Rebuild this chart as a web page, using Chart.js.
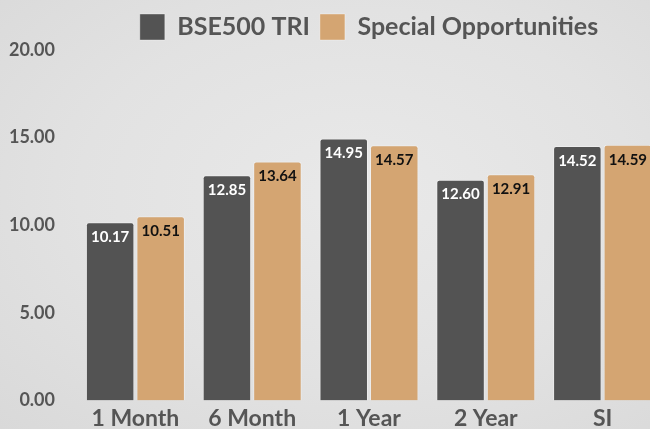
<!DOCTYPE html>
<html>
<head>
<meta charset="utf-8">
<script src="https://cdn.jsdelivr.net/npm/chart.js@4"></script>
<style>
  html, body { margin: 0; padding: 0; overflow: hidden; }
  body {
    width: 650px; height: 429px;
    background: radial-gradient(ellipse at 55% 45%, #e9e9e9 0%, #e2e2e2 55%, #d9d9d9 100%);
  }
  #wrap { position: relative; width: 661px; height: 436px; }
</style>
</head>
<body>
<div id="wrap"><canvas id="perfChart"></canvas></div>
<script>
// Chart data
const categories = ['1 Month', '6 Month', '1 Year', '2 Year', 'SI'];
const bse500Tri = [10.17, 12.85, 14.95, 12.60, 14.52];
const specialOpp = [10.51, 13.64, 14.57, 12.91, 14.59];
const yTicks = [0, 5, 10, 15, 20];

const labelColors = ['#ffffff', '#111111'];

// Draw the value labels just inside the top of each bar
const barLabels = {
    id: 'barLabels',
    afterDatasetsDraw: function(chart) {
        const ctx = chart.ctx;
        ctx.save();
        ctx.font = 'bold 15px Lato';
        ctx.textAlign = 'center';
        ctx.textBaseline = 'middle';
        chart.data.datasets.forEach(function(ds, i) {
            chart.getDatasetMeta(i).data.forEach(function(bar, j) {
                ctx.fillStyle = labelColors[i];
                ctx.fillText(ds.data[j].toFixed(2), bar.x, bar.y + 15);
            });
        });
        ctx.restore();
    }
};

const ctx = document.getElementById('perfChart').getContext('2d');
const perfChart = new Chart(ctx, {
    type: 'bar',
    data: {
        labels: categories,
        datasets: [{
            label: 'BSE500 TRI',
            data: bse500Tri,
            backgroundColor: '#535353',
            borderColor: 'rgba(255,255,255,0.35)',
            borderWidth: 1,
            borderRadius: 3,
            borderSkipped: 'bottom',
            categoryPercentage: 0.865,
            barPercentage: 0.96,
        }, {
            label: 'Special Opportunities',
            data: specialOpp,
            backgroundColor: '#d4a572',
            borderColor: 'rgba(255,255,255,0.35)',
            borderWidth: 1,
            borderRadius: 3,
            borderSkipped: 'bottom',
            categoryPercentage: 0.865,
            barPercentage: 0.96,
        }]
    },
    options: {
        responsive: true,
        maintainAspectRatio: false,
        animation: false,
        layout: {
            padding: { left: 0, top: 4, right: 0, bottom: 0 }
        },
        scales: {
            x: {
                grid: { display: false, drawTicks: false },
                border: { display: false },
                ticks: {
                    color: '#555555',
                    font: { family: 'Lato', size: 23, weight: 'bold' },
                    padding: 4,
                },
            },
            y: {
                min: yTicks[0],
                max: yTicks[yTicks.length - 1],
                afterBuildTicks: function(axis) {
                    axis.ticks = yTicks.map(function(v) { return { value: v }; });
                },
                afterFit: function(axis) {
                    axis.width = 77;
                },
                grid: { display: false, drawTicks: false },
                border: { display: false },
                ticks: {
                    color: '#555555',
                    font: { family: 'Lato', size: 18, weight: 'bold' },
                    padding: 22,
                    callback: function(v) { return Number(v).toFixed(2); },
                },
            }
        },
        plugins: {
            legend: {
                position: 'top',
                fullSize: false,
                labels: {
                    color: '#555555',
                    font: { family: 'Lato', size: 25, weight: 'bold' },
                    boxWidth: 25,
                    boxHeight: 26,
                    padding: 10,
                },
            },
            tooltip: { enabled: false }
        }
    },
    plugins: [barLabels]
});
</script>
</body>
</html>
